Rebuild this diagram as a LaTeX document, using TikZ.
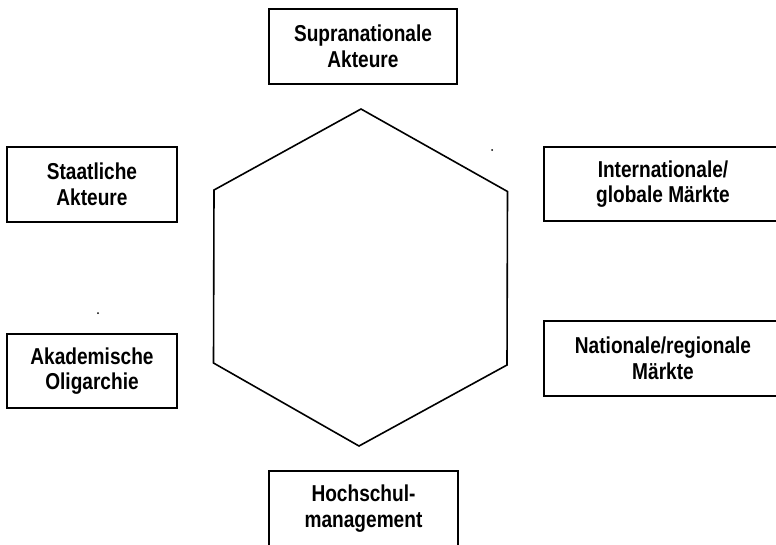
\documentclass[tikz,border=0pt]{standalone}
\usepackage{fontspec}
\setmainfont{Liberation Sans}
\newfontfamily\narrowfont[FakeStretch=0.83]{Liberation Sans}
\begin{document}
\begin{tikzpicture}[x=1pt,y={(0pt,-1pt)},
  actorbox/.style={draw, line width=1.3pt, inner sep=0pt, align=center,
    font=\narrowfont\bfseries\fontsize{23}{25.5}\selectfont},
  hexline/.style={line width=1.6pt, line join=miter}]
\useasboundingbox (0,0) rectangle (776,544);
\clip (0,0) rectangle (776,544);
% boxes
\node[actorbox, minimum width=188pt, minimum height=75pt] (supra) at (363,46.5) {Supranationale\\Akteure};
\node[actorbox, minimum width=170pt, minimum height=75pt] (staat) at (92,184.5) {Staatliche\\Akteure};
\node[actorbox, minimum width=170pt, minimum height=74pt] (akad) at (92,371) {Akademische\\Oligarchie};
\node[actorbox, minimum width=238pt, minimum height=74pt] (inter) at (663,184) {Internationale/\\globale Märkte};
\node[actorbox, minimum width=238pt, minimum height=75pt] (nat) at (663,358.5) {Nationale/regionale\\Märkte};
\node[actorbox, minimum width=189pt, minimum height=75pt] (hoch) at (363.5,508.5) {Hochschul-\\management};
% hexagon
\coordinate (h1) at (361,109);
\coordinate (h2) at (507.5,191.5);
\coordinate (h3) at (507,365);
\coordinate (h4) at (359,446);
\coordinate (h5) at (213.5,363);
\coordinate (h6) at (214,190);
\draw[hexline] (h1) -- (h2) -- (h3) -- (h4) -- (h5) -- (h6) -- cycle;
% stray dots
\fill (492,150) circle (1pt);
\fill (98,313) circle (1pt);
\end{tikzpicture}
\end{document}
